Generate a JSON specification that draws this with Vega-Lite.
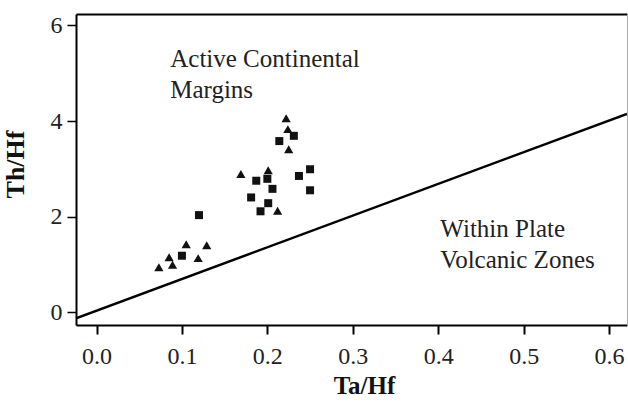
{
  "$schema": "https://vega.github.io/schema/vega-lite/v6.json",
  "width": 551,
  "height": 311,
  "autosize": "none",
  "padding": {"left": 76, "top": 14, "right": 1, "bottom": 80},
  "background": "white",
  "config": {
    "font": "Liberation Serif",
    "view": {"stroke": null},
    "axis": {"grid": false}
  },
  "datasets": {
    "boundary": [
      {"x": -0.024, "y": -0.13},
      {"x": 0.621, "y": 4.15}
    ],
    "samples": [
      {"x": 0.222, "y": 4.06, "type": "triangle"},
      {"x": 0.224, "y": 3.83, "type": "triangle"},
      {"x": 0.225, "y": 3.41, "type": "triangle"},
      {"x": 0.169, "y": 2.89, "type": "triangle"},
      {"x": 0.201, "y": 2.97, "type": "triangle"},
      {"x": 0.212, "y": 2.12, "type": "triangle"},
      {"x": 0.105, "y": 1.42, "type": "triangle"},
      {"x": 0.129, "y": 1.40, "type": "triangle"},
      {"x": 0.085, "y": 1.15, "type": "triangle"},
      {"x": 0.119, "y": 1.13, "type": "triangle"},
      {"x": 0.089, "y": 0.99, "type": "triangle"},
      {"x": 0.073, "y": 0.94, "type": "triangle"},
      {"x": 0.231, "y": 3.69, "type": "square"},
      {"x": 0.214, "y": 3.58, "type": "square"},
      {"x": 0.250, "y": 2.99, "type": "square"},
      {"x": 0.237, "y": 2.85, "type": "square"},
      {"x": 0.250, "y": 2.55, "type": "square"},
      {"x": 0.187, "y": 2.75, "type": "square"},
      {"x": 0.200, "y": 2.79, "type": "square"},
      {"x": 0.206, "y": 2.58, "type": "square"},
      {"x": 0.181, "y": 2.40, "type": "square"},
      {"x": 0.201, "y": 2.28, "type": "square"},
      {"x": 0.192, "y": 2.11, "type": "square"},
      {"x": 0.120, "y": 2.03, "type": "square"},
      {"x": 0.100, "y": 1.18, "type": "square"}
    ],
    "labels": [
      {"x": 0.0863, "y": 5.137, "label": "Active Continental"},
      {"x": 0.0863, "y": 4.475, "label": "Margins"},
      {"x": 0.4025, "y": 1.577, "label": "Within Plate"},
      {"x": 0.4025, "y": 0.915, "label": "Volcanic Zones"}
    ]
  },
  "layer": [
    {
      "data": {"name": "boundary"},
      "mark": {"type": "line", "color": "#000", "strokeWidth": 2.5, "clip": true},
      "encoding": {
        "x": {
          "field": "x", "type": "quantitative",
          "scale": {"domain": [-0.024, 0.621], "nice": false, "zero": false},
          "axis": {
            "title": "Ta/Hf", "values": [0, 0.1, 0.2, 0.3, 0.4, 0.5, 0.6], "format": ".1f",
            "domainColor": "#000", "domainWidth": 2,
            "tickColor": "#000", "tickWidth": 2, "tickSize": 9,
            "labelFont": "Liberation Serif", "labelFontSize": 24, "labelColor": "#222",
            "labelBaseline": "alphabetic", "labelPadding": 29,
            "titleFont": "Liberation Serif", "titleFontSize": 25, "titleFontWeight": "bold", "titleColor": "#111",
            "titleBaseline": "alphabetic", "titleX": 288, "titleY": 68
          }
        },
        "y": {
          "field": "y", "type": "quantitative",
          "scale": {"domain": [-0.27, 6.24], "nice": false, "zero": false},
          "axis": {
            "title": "Th/Hf", "values": [0, 2, 4, 6], "format": "d",
            "domainColor": "#000", "domainWidth": 2,
            "tickColor": "#000", "tickWidth": 1.5, "tickSize": 9,
            "labelFont": "Liberation Serif", "labelFontSize": 24, "labelColor": "#222",
            "labelPadding": 5,
            "titleFont": "Liberation Serif", "titleFontSize": 26, "titleFontWeight": "bold", "titleColor": "#111",
            "titleX": -48, "titleY": 150
          }
        }
      }
    },
    {
      "data": {"name": "samples"},
      "mark": {"type": "point", "filled": true, "opacity": 1, "color": "#111"},
      "encoding": {
        "x": {"field": "x", "type": "quantitative", "axis": null},
        "y": {"field": "y", "type": "quantitative", "axis": null},
        "shape": {
          "field": "type", "type": "nominal",
          "scale": {"domain": ["triangle", "square"], "range": ["triangle-up", "square"]},
          "legend": null
        },
        "size": {
          "field": "type", "type": "nominal",
          "scale": {"domain": ["triangle", "square"], "range": [85, 64]},
          "legend": null
        }
      }
    },
    {
      "data": {"name": "labels"},
      "mark": {"type": "text", "align": "left", "baseline": "alphabetic", "font": "Liberation Serif", "fontSize": 25, "color": "#222"},
      "encoding": {
        "x": {
          "field": "x", "type": "quantitative",
          "axis": {"orient": "top", "title": null, "labels": false, "ticks": false, "domainColor": "#000", "domainWidth": 2}
        },
        "y": {
          "field": "y", "type": "quantitative",
          "axis": {"orient": "right", "title": null, "labels": false, "ticks": false, "domainColor": "#aaa", "domainWidth": 1}
        },
        "text": {"field": "label"}
      }
    }
  ],
  "resolve": {"axis": {"x": "independent", "y": "independent"}}
}
